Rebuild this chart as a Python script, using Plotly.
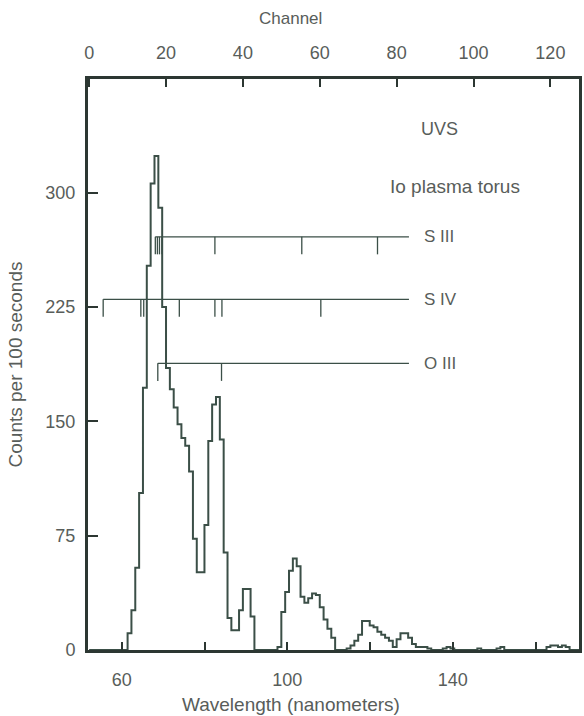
import plotly.graph_objects as go

# ---------------- data ----------------
channel = list(range(0, 128))
counts = [
    0, 0, 0, 0, 0, 0, 0, 0, 0, 0,            # 0-9
    11, 26, 54, 103, 172, 252, 306, 324, 290, 225,   # 10-19
    185, 171, 159, 148, 139, 134, 117, 73, 51, 51,   # 20-29
    82, 137, 161, 166, 138, 64, 21, 13, 13, 26,      # 30-39
    40, 40, 22, 0, 0, 0, 0, 0, 0, 2,                 # 40-49
    25, 38, 52, 60, 55, 35, 31, 34, 37, 36,          # 50-59
    28, 20, 14, 8, 0, 0, 0, 1, 3, 6,                 # 60-69
    10, 19, 19, 16, 15, 12, 10, 8, 6, 2,             # 70-79
    7, 11, 11, 8, 4, 2, 2, 2, 1, 0,                  # 80-89
    0, 0, 1, 2, 1, 0, 0, 0, 0, 0,                    # 90-99
    0, 1, 0, 0, 0, 0, 1, 2, 0, 0,                    # 100-109
    0, 0, 0, 0, 0, 0, 0, 0, 0, 2,                    # 110-119
    3, 3, 2, 3, 2, 0, 0, 0,                          # 120-127
]

channel_ticks = [0, 20, 40, 60, 80, 100, 120]
wavelength_ticks = [60, 80, 100, 120, 140, 160]
wavelength_labels = ["60", "", "100", "", "140", ""]
count_ticks = [0, 75, 150, 225, 300]

ion_names = ["S III", "S IV", "O III"]
ion_levels = [271, 230, 188]
ion_lines_nm = [
    [68.1, 68.6, 69.1, 69.7, 82.5, 103.5, 121.8],
    [55.5, 64.6, 65.3, 73.9, 82.5, 84.2, 108.1],
    [68.7, 84.1],
]
ion_line_end_nm = 129.4

# ---------------- style ----------------
TXT = "#585d5a"
LINE = "#3b4f47"
FRAME = "#2c3732"
FONT = "Liberation Sans, Arial, sans-serif"
TICK_DROP = 11.5

fig = go.Figure()

# spectrum (step histogram on channel axis)
fig.add_trace(go.Scatter(
    x=channel + [channel[-1] + 1],
    y=counts + [counts[-1]],
    mode="lines",
    line=dict(color=LINE, width=2, shape="hv"),
    xaxis="x2", yaxis="y",
    hoverinfo="skip",
    showlegend=False,
))

# emission line markers
for name, lvl, lines in zip(ion_names, ion_levels, ion_lines_nm):
    xs = [lines[0], ion_line_end_nm, None]
    ys = [lvl, lvl, None]
    for w in lines:
        xs += [w, w, None]
        ys += [lvl, lvl - TICK_DROP, None]
    fig.add_trace(go.Scatter(
        x=xs, y=ys, mode="lines",
        line=dict(color=LINE, width=1.3),
        xaxis="x", yaxis="y", hoverinfo="skip", showlegend=False,
    ))
    fig.add_annotation(
        x=132.6, y=lvl, xref="x", yref="y", text=name, showarrow=False,
        xanchor="left", yanchor="middle",
        font=dict(family=FONT, size=17, color=TXT),
    )

fig.add_annotation(x=131.8, y=342, xref="x", yref="y", text="UVS", showarrow=False,
                   xanchor="left", yanchor="middle",
                   font=dict(family=FONT, size=18, color=TXT))
fig.add_annotation(x=124.4, y=304, xref="x", yref="y", text="Io plasma torus",
                   showarrow=False, xanchor="left", yanchor="middle",
                   font=dict(family=FONT, size=19, color=TXT))

# axis titles (placed off-centre like the original)
fig.add_annotation(x=0.413, y=-0.096, xref="paper", yref="paper",
                   text="Wavelength (nanometers)", showarrow=False,
                   xanchor="center", yanchor="middle",
                   font=dict(family=FONT, size=19, color=TXT))
fig.add_annotation(x=0.413, y=1.106, xref="paper", yref="paper",
                   text="Channel", showarrow=False,
                   xanchor="center", yanchor="middle",
                   font=dict(family=FONT, size=17, color=TXT))

axis_common = dict(
    showgrid=False, zeroline=False, showline=True,
    ticks="inside", tickcolor=FRAME, tickwidth=1.5,
    tickfont=dict(family=FONT, size=18, color=TXT),
)

fig.update_layout(
    width=584, height=716,
    margin=dict(l=88, r=2, t=79, b=66),
    paper_bgcolor="white", plot_bgcolor="white",
    xaxis=dict(
        range=[51.83, 170.5],
        tickvals=wavelength_ticks, ticktext=wavelength_labels,
        ticklen=8, linewidth=3, linecolor=FRAME,
        ticklabelstandoff=11,
        **axis_common,
    ),
    xaxis2=dict(
        range=[-0.3, 127.45], overlaying="x", side="top",
        tickvals=channel_ticks, ticklen=8, linewidth=3, linecolor=FRAME,
        ticklabelstandoff=10,
        **axis_common,
    ),
    yaxis=dict(
        range=[0, 374.5], tickvals=count_ticks, ticklen=10,
        linewidth=3, linecolor=FRAME, mirror=True,
        ticklabelstandoff=6,
        title=dict(text="Counts per 100 seconds", standoff=18,
                   font=dict(family=FONT, size=19, color=TXT)),
        **axis_common,
    ),
)

fig.write_html(
    "out.html",
    config={"displayModeBar": False},
    post_script="document.body.style.margin='0';document.body.style.overflow='hidden';",
)
